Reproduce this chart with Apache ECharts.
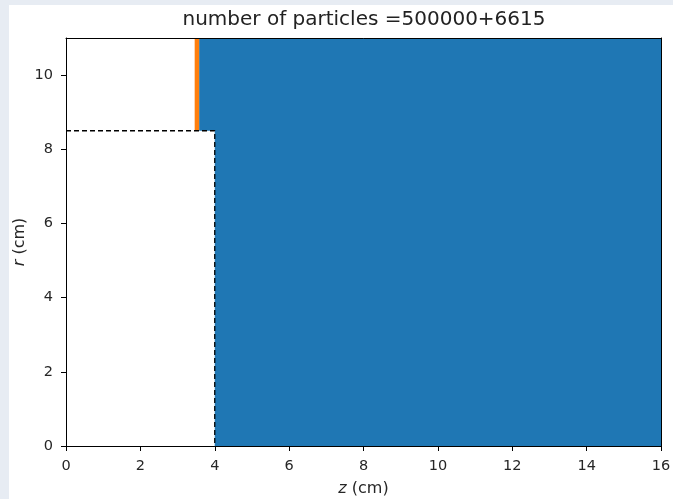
<!DOCTYPE html>
<html lang="en">
<head>
    <meta charset="UTF-8">
    <title>particles</title>
    <script src="https://cdn.jsdelivr.net/npm/echarts@6/dist/echarts.min.js"></script>
    <style>
        body { margin: 0; background: #e7ecf3; }
        #main { position: absolute; left: 9px; top: 5px; width: 664px; height: 494px; background: #fff; }
    </style>
</head>
<body>
    <div id="main"></div>
    <script type="text/javascript">
        // outline of the region filled with particles (blue), z / r in cm
        var blueZ = [3.58, 16.0, 16.0, 4.0, 4.0, 3.58];
        var blueR = [11.0, 11.0, 0.0, 0.0, 8.5, 8.5];
        // the 6615 extra particles (orange strip)
        var orangeZ = [3.46, 3.58, 3.58, 3.46];
        var orangeR = [11.0, 11.0, 8.5, 8.5];
        // dashed boundary
        var boundaryZ = [0, 4, 4];
        var boundaryR = [8.5, 8.5, 0];
        var xTicks = [0, 2, 4, 6, 8, 10, 12, 14, 16];
        var yTicks = [0, 2, 4, 6, 8, 10];

        function polygonRenderer(zs, rs) {
            return function (params, api) {
                if (params.dataIndex !== 0) return null;
                var pts = zs.map(function (z, i) { return api.coord([z, rs[i]]); });
                return {
                    type: 'polygon',
                    shape: { points: pts },
                    style: { fill: api.visual('color') }
                };
            };
        }

        function pairs(zs, rs) {
            return zs.map(function (z, i) { return [z, rs[i]]; });
        }

        var font = 'DejaVu Sans';
        var myChart = echarts.init(document.getElementById('main'));
        var axisCommon = {
            type: 'value',
            z: 10,
            splitLine: { show: false },
            axisLine: { show: true, onZero: false, lineStyle: { color: '#000', width: 1 } }
        };
        var nameStyle = {
            fontFamily: font, fontSize: 16, color: '#262626',
            rich: { i: { fontFamily: font, fontSize: 16, fontStyle: 'italic', color: '#262626' } }
        };
        var option = {
            animation: false,
            title: {
                text: 'number of particles =500000+6615',
                left: 355, top: 5, padding: 0, textAlign: 'center',
                textStyle: { fontFamily: font, fontSize: 20, fontWeight: 'normal', color: '#222' }
            },
            grid: { left: 57, right: 12, top: 33, bottom: 53, outerBoundsMode: 'none' },
            xAxis: [
                Object.assign({}, axisCommon, {
                    min: 0, max: 16, interval: 2, position: 'bottom',
                    axisTick: { show: true, length: 5, customValues: xTicks, lineStyle: { color: '#000' } },
                    axisLabel: { customValues: xTicks, margin: 13, fontFamily: font, fontSize: 14.5, color: '#262626' },
                    name: '{i|z} (cm)', nameLocation: 'middle', nameGap: 35, nameMoveOverlap: false,
                    nameTextStyle: nameStyle
                }),
                Object.assign({}, axisCommon, {
                    min: 0, max: 16, position: 'top', axisTick: { show: false }, axisLabel: { show: false }
                })
            ],
            yAxis: [
                Object.assign({}, axisCommon, {
                    min: 0, max: 11, interval: 2, position: 'left',
                    axisTick: { show: true, length: 5, customValues: yTicks, lineStyle: { color: '#000' } },
                    axisLabel: { customValues: yTicks, margin: 13, fontFamily: font, fontSize: 14.5, color: '#262626' },
                    name: '{i|r} (cm)', nameLocation: 'middle', nameGap: 38, nameRotate: 90, nameMoveOverlap: false,
                    nameTextStyle: nameStyle
                }),
                Object.assign({}, axisCommon, {
                    min: 0, max: 11, position: 'right', axisTick: { show: false }, axisLabel: { show: false }
                })
            ],
            series: [
                {
                    type: 'custom', name: 'particles', renderItem: polygonRenderer(blueZ, blueR),
                    itemStyle: { color: '#1f77b4' }, data: pairs(blueZ, blueR), z: 2
                },
                {
                    type: 'custom', name: 'extra', renderItem: polygonRenderer(orangeZ, orangeR),
                    itemStyle: { color: '#ff7f0e' }, data: pairs(orangeZ, orangeR), z: 3
                },
                {
                    type: 'line', name: 'boundary', symbol: 'none', z: 5,
                    lineStyle: { color: '#000', width: 1.3, type: [5, 3] },
                    data: pairs(boundaryZ, boundaryR)
                }
            ]
        };
        myChart.setOption(option);
    </script>
</body>
</html>
